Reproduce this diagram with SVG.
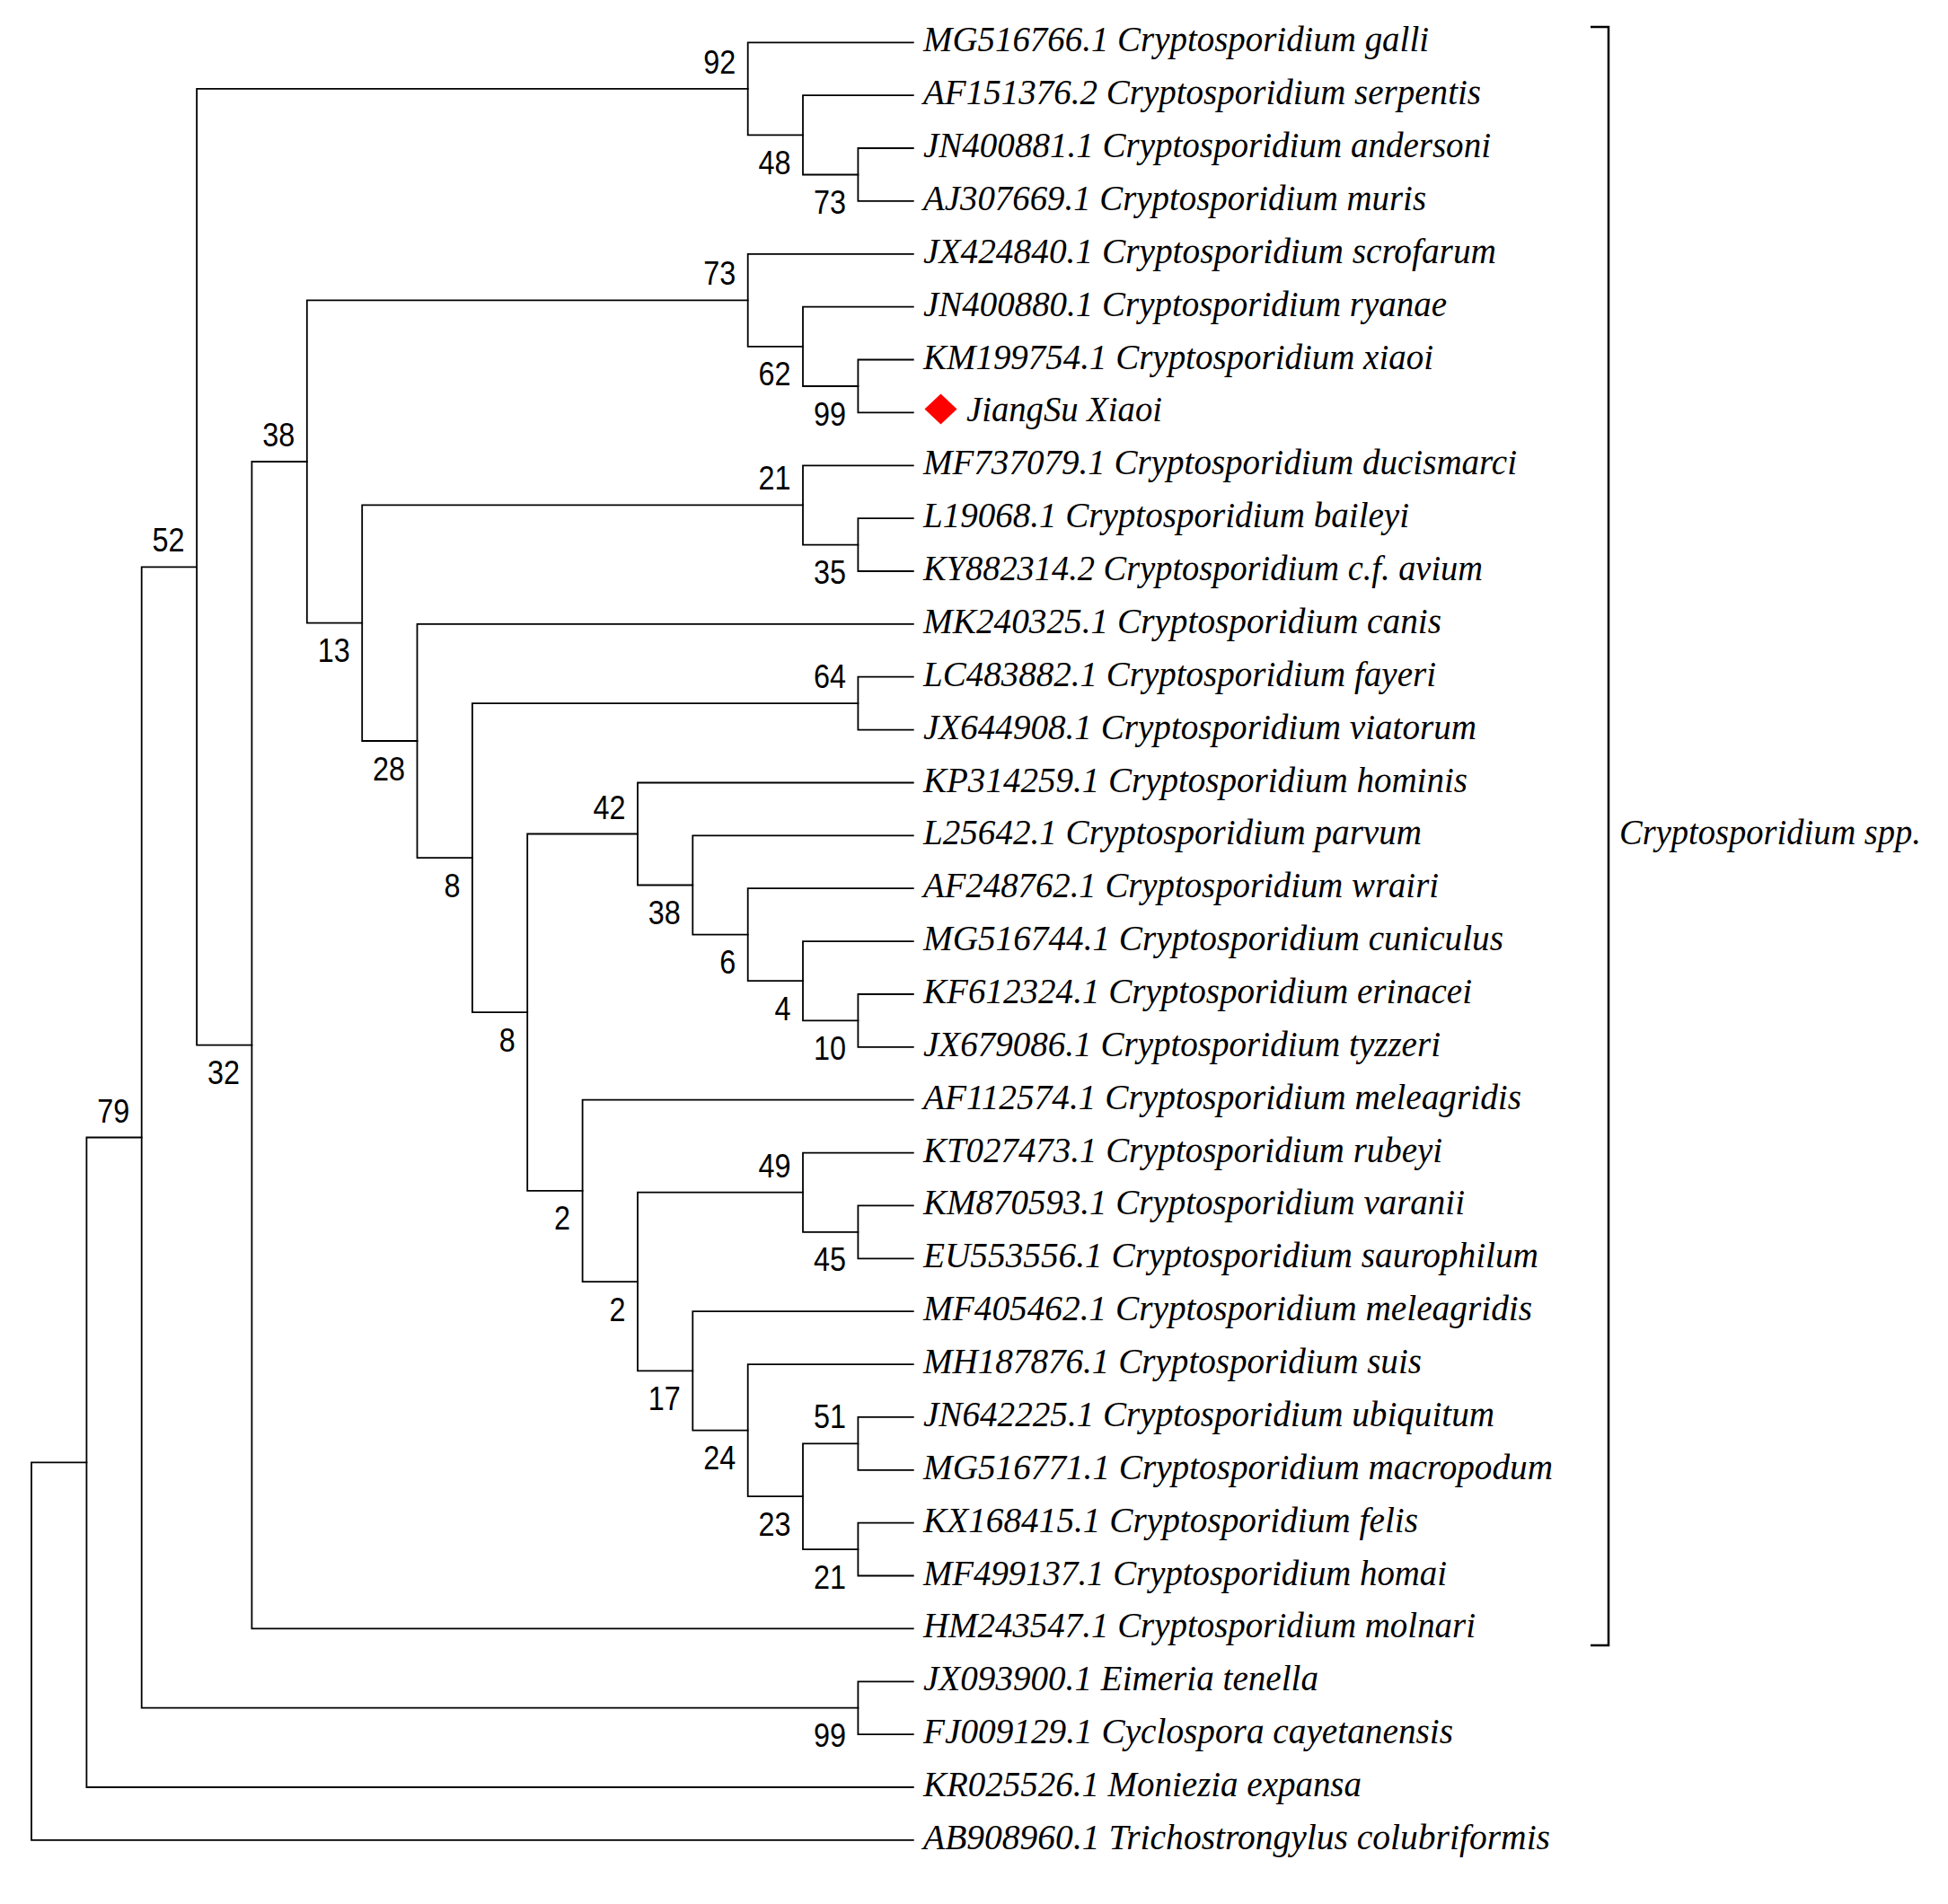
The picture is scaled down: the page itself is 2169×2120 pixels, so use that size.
<svg xmlns="http://www.w3.org/2000/svg" width="2169" height="2120" viewBox="0 0 2169 2120">
<style>
.br{fill:none;stroke:#000;stroke-width:1.8;stroke-linecap:square}
.lf{font-family:"Liberation Serif","Times New Roman",serif;font-style:italic;font-size:39px;fill:#000}
.bs{font-family:"Liberation Sans",Arial,sans-serif;font-size:37px;fill:#000;text-anchor:end}
</style>
<rect width="2169" height="2120" fill="#fff"/>
<g id="connectors">
<path class="br" d="M1016.8,165 H955.4 V223.9 H1016.8"/>
<path class="br" d="M1016.8,106.2 H894 V194.5 H955.4"/>
<path class="br" d="M1016.8,47.3 H832.7 V150.3 H894"/>
<path class="br" d="M1016.8,400.5 H955.4 V459.4 H1016.8"/>
<path class="br" d="M1016.8,341.7 H894 V430 H955.4"/>
<path class="br" d="M1016.8,282.8 H832.7 V385.8 H894"/>
<path class="br" d="M1016.8,577.1 H955.4 V636 H1016.8"/>
<path class="br" d="M1016.8,518.3 H894 V606.6 H955.4"/>
<path class="br" d="M1016.8,753.7 H955.4 V812.6 H1016.8"/>
<path class="br" d="M1016.8,1107 H955.4 V1165.8 H1016.8"/>
<path class="br" d="M1016.8,1048.1 H894 V1136.4 H955.4"/>
<path class="br" d="M1016.8,989.2 H832.7 V1092.2 H894"/>
<path class="br" d="M1016.8,930.4 H771.3 V1040.7 H832.7"/>
<path class="br" d="M1016.8,871.5 H710 V985.5 H771.3"/>
<path class="br" d="M1016.8,1342.4 H955.4 V1401.3 H1016.8"/>
<path class="br" d="M1016.8,1283.6 H894 V1371.9 H955.4"/>
<path class="br" d="M1016.8,1577.9 H955.4 V1636.8 H1016.8"/>
<path class="br" d="M1016.8,1695.7 H955.4 V1754.5 H1016.8"/>
<path class="br" d="M955.4,1607.4 H894 V1725.1 H955.4"/>
<path class="br" d="M1016.8,1519.1 H832.7 V1666.2 H894"/>
<path class="br" d="M1016.8,1460.2 H771.3 V1592.6 H832.7"/>
<path class="br" d="M894,1327.7 H710 V1526.4 H771.3"/>
<path class="br" d="M1016.8,1224.7 H648.6 V1427.1 H710"/>
<path class="br" d="M710,928.5 H587.2 V1325.9 H648.6"/>
<path class="br" d="M955.4,783.2 H525.9 V1127.2 H587.2"/>
<path class="br" d="M1016.8,694.9 H464.5 V955.2 H525.9"/>
<path class="br" d="M894,562.4 H403.2 V825 H464.5"/>
<path class="br" d="M832.7,334.3 H341.8 V693.7 H403.2"/>
<path class="br" d="M341.8,514 H280.4 V1813.4 H1016.8"/>
<path class="br" d="M832.7,98.8 H219.1 V1163.7 H280.4"/>
<path class="br" d="M1016.8,1872.3 H955.4 V1931.1 H1016.8"/>
<path class="br" d="M219.1,631.3 H157.7 V1901.7 H955.4"/>
<path class="br" d="M157.7,1266.5 H96.4 V1990 H1016.8"/>
<path class="br" d="M96.4,1628.3 H35 V2048.9 H1016.8"/>
</g>
<g id="leaves">
<g id="leaf-0"><text class="lf" x="1028" y="57.3" textLength="563" lengthAdjust="spacingAndGlyphs">MG516766.1 Cryptosporidium galli</text></g>
<g id="leaf-1"><text class="lf" x="1028" y="116.2" textLength="621" lengthAdjust="spacingAndGlyphs">AF151376.2 Cryptosporidium serpentis</text></g>
<g id="leaf-2"><text class="lf" x="1028" y="175" textLength="632" lengthAdjust="spacingAndGlyphs">JN400881.1 Cryptosporidium andersoni</text></g>
<g id="leaf-3"><text class="lf" x="1028" y="233.9" textLength="560" lengthAdjust="spacingAndGlyphs">AJ307669.1 Cryptosporidium muris</text></g>
<g id="leaf-4"><text class="lf" x="1028" y="292.8" textLength="638" lengthAdjust="spacingAndGlyphs">JX424840.1 Cryptosporidium scrofarum</text></g>
<g id="leaf-5"><text class="lf" x="1028" y="351.7" textLength="583" lengthAdjust="spacingAndGlyphs">JN400880.1 Cryptosporidium ryanae</text></g>
<g id="leaf-6"><text class="lf" x="1028" y="410.5" textLength="568" lengthAdjust="spacingAndGlyphs">KM199754.1 Cryptosporidium xiaoi</text></g>
<g id="leaf-7"><polygon points="1047.5,438.5 1065.5,455.5 1047.5,472.5 1029.5,455.5" fill="#ff0000"/><text class="lf" x="1076" y="469.4" textLength="218" lengthAdjust="spacingAndGlyphs">JiangSu Xiaoi</text></g>
<g id="leaf-8"><text class="lf" x="1028" y="528.3" textLength="661" lengthAdjust="spacingAndGlyphs">MF737079.1 Cryptosporidium ducismarci</text></g>
<g id="leaf-9"><text class="lf" x="1028" y="587.1" textLength="541" lengthAdjust="spacingAndGlyphs">L19068.1 Cryptosporidium baileyi</text></g>
<g id="leaf-10"><text class="lf" x="1028" y="646" textLength="623" lengthAdjust="spacingAndGlyphs">KY882314.2 Cryptosporidium c.f. avium</text></g>
<g id="leaf-11"><text class="lf" x="1028" y="704.9" textLength="577" lengthAdjust="spacingAndGlyphs">MK240325.1 Cryptosporidium canis</text></g>
<g id="leaf-12"><text class="lf" x="1028" y="763.7" textLength="571" lengthAdjust="spacingAndGlyphs">LC483882.1 Cryptosporidium fayeri</text></g>
<g id="leaf-13"><text class="lf" x="1028" y="822.6" textLength="616" lengthAdjust="spacingAndGlyphs">JX644908.1 Cryptosporidium viatorum</text></g>
<g id="leaf-14"><text class="lf" x="1028" y="881.5" textLength="606" lengthAdjust="spacingAndGlyphs">KP314259.1 Cryptosporidium hominis</text></g>
<g id="leaf-15"><text class="lf" x="1028" y="940.4" textLength="555" lengthAdjust="spacingAndGlyphs">L25642.1 Cryptosporidium parvum</text></g>
<g id="leaf-16"><text class="lf" x="1028" y="999.2" textLength="574" lengthAdjust="spacingAndGlyphs">AF248762.1 Cryptosporidium wrairi</text></g>
<g id="leaf-17"><text class="lf" x="1028" y="1058.1" textLength="646" lengthAdjust="spacingAndGlyphs">MG516744.1 Cryptosporidium cuniculus</text></g>
<g id="leaf-18"><text class="lf" x="1028" y="1117" textLength="611" lengthAdjust="spacingAndGlyphs">KF612324.1 Cryptosporidium erinacei</text></g>
<g id="leaf-19"><text class="lf" x="1028" y="1175.8" textLength="576" lengthAdjust="spacingAndGlyphs">JX679086.1 Cryptosporidium tyzzeri</text></g>
<g id="leaf-20"><text class="lf" x="1028" y="1234.7" textLength="666" lengthAdjust="spacingAndGlyphs">AF112574.1 Cryptosporidium meleagridis</text></g>
<g id="leaf-21"><text class="lf" x="1028" y="1293.6" textLength="578" lengthAdjust="spacingAndGlyphs">KT027473.1 Cryptosporidium rubeyi</text></g>
<g id="leaf-22"><text class="lf" x="1028" y="1352.4" textLength="603" lengthAdjust="spacingAndGlyphs">KM870593.1 Cryptosporidium varanii</text></g>
<g id="leaf-23"><text class="lf" x="1028" y="1411.3" textLength="685" lengthAdjust="spacingAndGlyphs">EU553556.1 Cryptosporidium saurophilum</text></g>
<g id="leaf-24"><text class="lf" x="1028" y="1470.2" textLength="678" lengthAdjust="spacingAndGlyphs">MF405462.1 Cryptosporidium meleagridis</text></g>
<g id="leaf-25"><text class="lf" x="1028" y="1529.1" textLength="555" lengthAdjust="spacingAndGlyphs">MH187876.1 Cryptosporidium suis</text></g>
<g id="leaf-26"><text class="lf" x="1028" y="1587.9" textLength="636" lengthAdjust="spacingAndGlyphs">JN642225.1 Cryptosporidium ubiquitum</text></g>
<g id="leaf-27"><text class="lf" x="1028" y="1646.8" textLength="701" lengthAdjust="spacingAndGlyphs">MG516771.1 Cryptosporidium macropodum</text></g>
<g id="leaf-28"><text class="lf" x="1028" y="1705.7" textLength="551" lengthAdjust="spacingAndGlyphs">KX168415.1 Cryptosporidium felis</text></g>
<g id="leaf-29"><text class="lf" x="1028" y="1764.5" textLength="583" lengthAdjust="spacingAndGlyphs">MF499137.1 Cryptosporidium homai</text></g>
<g id="leaf-30"><text class="lf" x="1028" y="1823.4" textLength="615" lengthAdjust="spacingAndGlyphs">HM243547.1 Cryptosporidium molnari</text></g>
<g id="leaf-31"><text class="lf" x="1028" y="1882.3" textLength="440" lengthAdjust="spacingAndGlyphs">JX093900.1 Eimeria tenella</text></g>
<g id="leaf-32"><text class="lf" x="1028" y="1941.1" textLength="590" lengthAdjust="spacingAndGlyphs">FJ009129.1 Cyclospora cayetanensis</text></g>
<g id="leaf-33"><text class="lf" x="1028" y="2000" textLength="488" lengthAdjust="spacingAndGlyphs">KR025526.1 Moniezia expansa</text></g>
<g id="leaf-34"><text class="lf" x="1028" y="2058.9" textLength="698" lengthAdjust="spacingAndGlyphs">AB908960.1 Trichostrongylus colubriformis</text></g>
</g>
<g id="bootstrap">
<g id="node-C"><text class="bs" x="819.2" y="81.8" textLength="36" lengthAdjust="spacingAndGlyphs">92</text></g>
<g id="node-B"><text class="bs" x="880.5" y="193.8" textLength="36" lengthAdjust="spacingAndGlyphs">48</text></g>
<g id="node-A"><text class="bs" x="941.9" y="238" textLength="36" lengthAdjust="spacingAndGlyphs">73</text></g>
<g id="node-F"><text class="bs" x="819.2" y="317.3" textLength="36" lengthAdjust="spacingAndGlyphs">73</text></g>
<g id="node-E"><text class="bs" x="880.5" y="429.3" textLength="36" lengthAdjust="spacingAndGlyphs">62</text></g>
<g id="node-D"><text class="bs" x="941.9" y="473.5" textLength="36" lengthAdjust="spacingAndGlyphs">99</text></g>
<g id="node-AB"><text class="bs" x="328.3" y="497" textLength="36" lengthAdjust="spacingAndGlyphs">38</text></g>
<g id="node-H"><text class="bs" x="880.5" y="545.4" textLength="36" lengthAdjust="spacingAndGlyphs">21</text></g>
<g id="node-AD"><text class="bs" x="205.6" y="614.3" textLength="36" lengthAdjust="spacingAndGlyphs">52</text></g>
<g id="node-G"><text class="bs" x="941.9" y="650.1" textLength="36" lengthAdjust="spacingAndGlyphs">35</text></g>
<g id="node-AA"><text class="bs" x="389.7" y="737.2" textLength="36" lengthAdjust="spacingAndGlyphs">13</text></g>
<g id="node-I"><text class="bs" x="941.9" y="766.2" textLength="36" lengthAdjust="spacingAndGlyphs">64</text></g>
<g id="node-Z"><text class="bs" x="451" y="868.5" textLength="36" lengthAdjust="spacingAndGlyphs">28</text></g>
<g id="node-N"><text class="bs" x="696.5" y="911.5" textLength="36" lengthAdjust="spacingAndGlyphs">42</text></g>
<g id="node-Y"><text class="bs" x="512.4" y="998.7" textLength="18" lengthAdjust="spacingAndGlyphs">8</text></g>
<g id="node-M"><text class="bs" x="757.8" y="1029" textLength="36" lengthAdjust="spacingAndGlyphs">38</text></g>
<g id="node-L"><text class="bs" x="819.2" y="1084.2" textLength="18" lengthAdjust="spacingAndGlyphs">6</text></g>
<g id="node-K"><text class="bs" x="880.5" y="1135.7" textLength="18" lengthAdjust="spacingAndGlyphs">4</text></g>
<g id="node-J"><text class="bs" x="941.9" y="1179.9" textLength="36" lengthAdjust="spacingAndGlyphs">10</text></g>
<g id="node-X"><text class="bs" x="573.7" y="1170.7" textLength="18" lengthAdjust="spacingAndGlyphs">8</text></g>
<g id="node-AC"><text class="bs" x="266.9" y="1207.2" textLength="36" lengthAdjust="spacingAndGlyphs">32</text></g>
<g id="node-AF"><text class="bs" x="144.2" y="1249.5" textLength="36" lengthAdjust="spacingAndGlyphs">79</text></g>
<g id="node-P"><text class="bs" x="880.5" y="1310.7" textLength="36" lengthAdjust="spacingAndGlyphs">49</text></g>
<g id="node-W"><text class="bs" x="635.1" y="1369.4" textLength="18" lengthAdjust="spacingAndGlyphs">2</text></g>
<g id="node-O"><text class="bs" x="941.9" y="1415.4" textLength="36" lengthAdjust="spacingAndGlyphs">45</text></g>
<g id="node-V"><text class="bs" x="696.5" y="1470.6" textLength="18" lengthAdjust="spacingAndGlyphs">2</text></g>
<g id="node-U"><text class="bs" x="757.8" y="1569.9" textLength="36" lengthAdjust="spacingAndGlyphs">17</text></g>
<g id="node-Q"><text class="bs" x="941.9" y="1590.4" textLength="36" lengthAdjust="spacingAndGlyphs">51</text></g>
<g id="node-T"><text class="bs" x="819.2" y="1636.1" textLength="36" lengthAdjust="spacingAndGlyphs">24</text></g>
<g id="node-S"><text class="bs" x="880.5" y="1709.7" textLength="36" lengthAdjust="spacingAndGlyphs">23</text></g>
<g id="node-R"><text class="bs" x="941.9" y="1768.6" textLength="36" lengthAdjust="spacingAndGlyphs">21</text></g>
<g id="node-AE"><text class="bs" x="941.9" y="1945.2" textLength="36" lengthAdjust="spacingAndGlyphs">99</text></g>
</g>
<g id="clade-bracket">
<path d="M1771,30 H1791 V1832 H1771" fill="none" stroke="#000" stroke-width="2.5"/>
<text class="lf" x="1803" y="940.4" textLength="336" lengthAdjust="spacingAndGlyphs">Cryptosporidium spp.</text>
</g>
</svg>
